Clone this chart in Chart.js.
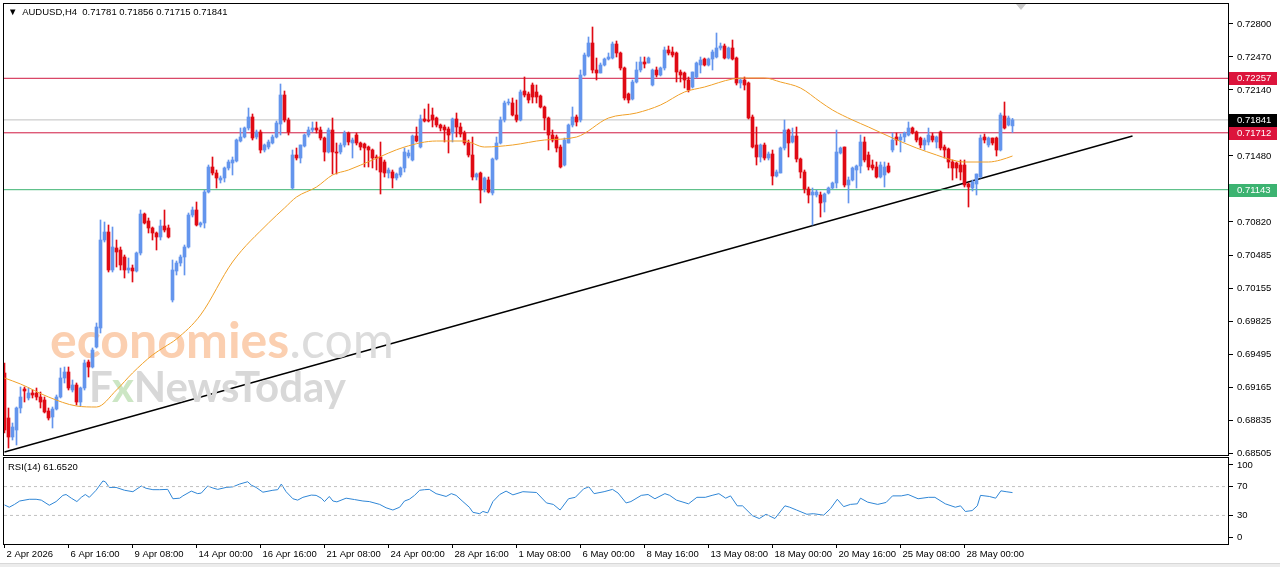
<!DOCTYPE html>
<html>
<head>
<meta charset="utf-8">
<script src="https://cdn.jsdelivr.net/npm/chart.js@4.4.1/dist/chart.umd.min.js"></script>
<style>
  html, body { margin: 0; padding: 0; background: #fff; }
  #wrap { position: relative; width: 1280px; height: 567px; overflow: hidden; background: #fff; font-family: "Liberation Sans", Arial, sans-serif; }
  canvas { position: absolute; left: 0; }
  #mainBack { top: 0; z-index: 1; }
  #main { top: 0; z-index: 3; }
  #rsi { top: 456px; z-index: 3; }
  .txt { position: absolute; z-index: 4; font-size: 9.5px; color: #000; white-space: nowrap; line-height: 12px; }
  .wm { position: absolute; z-index: 2; white-space: nowrap; font-family: Lato, sans-serif; font-weight: 700; }
  #wm1 { left: 50px; top: 314px; font-size: 50px; line-height: 50px; color: #fbcfb0; }
  #wm1 span { color: #dcdcdc; font-weight: 400; }
  #wm2 { left: 89px; top: 365px; font-size: 42px; line-height: 42px; color: #d8d8d8; }
  #wm2 span { color: #cce6c4; }
  #shift { position: absolute; z-index: 4; left: 1016px; top: 4px; width: 0; height: 0;
           border-left: 5px solid transparent; border-right: 5px solid transparent; border-top: 6px solid #c8c8c8; }
  #foot { position: absolute; z-index: 4; left: 0; top: 563px; width: 1280px; height: 4px; background: #ececec; border-top: 1px solid #d8d8d8; }
</style>
</head>
<body>
<div id="wrap">
  <canvas id="mainBack" width="1280" height="456"></canvas>
  <div class="wm" id="wm1">economies<span>.com</span></div>
  <div class="wm" id="wm2">F<span>x</span>NewsToday</div>
  <canvas id="main" width="1280" height="456"></canvas>
  <canvas id="rsi" width="1280" height="111"></canvas>
  <div class="txt" style="left:8px; top:6px;">&#9660;&nbsp; AUDUSD,H4&nbsp; 0.71781 0.71856 0.71715 0.71841</div>
  <div class="txt" style="left:8px; top:461px;">RSI(14) 61.6520</div>
  <div id="shift"></div>
  <div id="foot"></div>
</div>
<script>
// AUDUSD H4 candles, bar 0 = 2 Apr 2026 00:00
const opens = [
  0.6931,0.6886,0.6867,0.6874,0.6896,0.6915,0.6906,0.6911,0.6911,0.6907,
  0.6904,0.6893,0.6887,0.6895,0.6907,0.6926,0.6932,0.6914,0.6919,0.6902,
  0.6916,0.6942,0.6937,0.6957,0.6976,0.7064,0.7072,0.7034,0.7056,0.7054,
  0.7047,0.7034,0.7036,0.7033,0.7051,0.7090,0.7083,0.7076,0.7071,0.7067,
  0.7078,0.7076,0.7004,0.7033,0.7041,0.7047,0.7057,0.7089,0.7094,0.7079,
  0.7081,0.7112,0.7137,0.7131,0.7124,0.7126,0.7136,0.7141,0.7143,0.7163,
  0.7167,0.7176,0.7187,0.7167,0.7172,0.7154,0.7157,0.7161,0.7167,0.7180,
  0.7209,0.7184,0.7116,0.7149,0.7146,0.7158,0.7169,0.7174,0.7176,0.7174,
  0.7166,0.7152,0.7174,0.7152,0.7152,0.7159,0.7171,0.7161,0.7169,0.7161,
  0.7160,0.7157,0.7154,0.7147,0.7147,0.7142,0.7131,0.7132,0.7126,0.7129,
  0.7136,0.7148,0.7144,0.7168,0.7157,0.7185,0.7184,0.7189,0.7186,0.7179,
  0.7177,0.7175,0.7171,0.7185,0.7177,0.7171,0.7161,0.7149,0.7127,0.7131,
  0.7115,0.7124,0.7111,0.7145,0.7161,0.7184,0.7201,0.7201,0.7189,0.7184,
  0.7213,0.7210,0.7219,0.7212,0.7208,0.7197,0.7186,0.7169,0.7167,0.7157,
  0.7139,0.7161,0.7179,0.7187,0.7184,0.7229,0.7248,0.7261,0.7234,0.7231,
  0.7239,0.7245,0.7246,0.7260,0.7251,0.7236,0.7210,0.7205,0.7222,0.7234,
  0.7242,0.7241,0.7219,0.7234,0.7229,0.7236,0.7254,0.7252,0.7251,0.7232,
  0.7231,0.7224,0.7217,0.7227,0.7239,0.7245,0.7239,0.7245,0.7247,0.7256,
  0.7258,0.7246,0.7256,0.7246,0.7221,0.7224,0.7221,0.7187,0.7159,0.7147,
  0.7159,0.7146,0.7150,0.7128,0.7131,0.7156,0.7174,0.7162,0.7168,0.7145,
  0.7132,0.7115,0.7109,0.7109,0.7109,0.7102,0.7111,0.7116,0.7121,0.7151,
  0.7157,0.7119,0.7124,0.7134,0.7138,0.7162,0.7149,0.7139,0.7137,0.7127,
  0.7129,0.7138,0.7154,0.7167,0.7164,0.7167,0.7169,0.7176,0.7172,0.7166,
  0.7159,0.7162,0.7168,0.7162,0.7172,0.7157,0.7155,0.7142,0.7141,0.7139,
  0.7139,0.7120,0.7116,0.7120,0.7127,0.7167,0.7159,0.7166,0.7166,0.7154,
  0.7188,0.7179,0.71781
];
const highs = [
  0.6941,0.6896,0.6881,0.6897,0.6917,0.6917,0.6916,0.6914,0.6916,0.6912,
  0.6907,0.6896,0.6897,0.6909,0.6936,0.6937,0.6937,0.6924,0.6921,0.6917,
  0.6944,0.6944,0.6956,0.6981,0.7084,0.7082,0.7079,0.7077,0.7064,0.7057,
  0.7049,0.7046,0.7039,0.7052,0.7094,0.7091,0.7086,0.7077,0.7072,0.7084,
  0.7094,0.7079,0.7044,0.7043,0.7049,0.7059,0.7091,0.7097,0.7102,0.7082,
  0.7114,0.7139,0.7147,0.7134,0.7128,0.7137,0.7144,0.7147,0.7165,0.7176,
  0.7177,0.7196,0.7190,0.7174,0.7174,0.7160,0.7164,0.7169,0.7183,0.7220,
  0.7213,0.7186,0.7154,0.7156,0.7159,0.7170,0.7177,0.7182,0.7182,0.7177,
  0.7167,0.7176,0.7186,0.7161,0.7161,0.7173,0.7172,0.7166,0.7171,0.7162,
  0.7161,0.7158,0.7155,0.7149,0.7162,0.7144,0.7136,0.7134,0.7131,0.7137,
  0.7156,0.7154,0.7169,0.7177,0.7189,0.7195,0.7200,0.7196,0.7187,0.7180,
  0.7179,0.7177,0.7186,0.7191,0.7181,0.7173,0.7164,0.7167,0.7131,0.7132,
  0.7127,0.7127,0.7146,0.7167,0.7187,0.7203,0.7205,0.7206,0.7204,0.7214,
  0.7227,0.7212,0.7221,0.7219,0.7209,0.7198,0.7187,0.7174,0.7169,0.7159,
  0.7166,0.7180,0.7197,0.7189,0.7234,0.7251,0.7267,0.7277,0.7246,0.7241,
  0.7246,0.7251,0.7262,0.7263,0.7252,0.7237,0.7211,0.7224,0.7242,0.7247,
  0.7247,0.7247,0.7235,0.7237,0.7237,0.7257,0.7258,0.7257,0.7252,0.7234,
  0.7232,0.7227,0.7232,0.7242,0.7247,0.7246,0.7246,0.7254,0.7271,0.7261,
  0.7260,0.7257,0.7264,0.7247,0.7226,0.7227,0.7222,0.7189,0.7177,0.7160,
  0.7161,0.7152,0.7154,0.7134,0.7157,0.7184,0.7175,0.7176,0.7177,0.7146,
  0.7134,0.7117,0.7116,0.7114,0.7112,0.7111,0.7117,0.7122,0.7174,0.7157,
  0.7157,0.7127,0.7137,0.7139,0.7169,0.7167,0.7152,0.7144,0.7142,0.7142,
  0.7142,0.7141,0.7171,0.7171,0.7170,0.7172,0.7182,0.7177,0.7173,0.7167,
  0.7166,0.7176,0.7171,0.7168,0.7173,0.7159,0.7156,0.7144,0.7142,0.7144,
  0.7144,0.7121,0.7124,0.7130,0.7169,0.7170,0.7167,0.7166,0.7167,0.7191,
  0.7202,0.7188,0.71856
];
const lows = [
  0.6871,0.6856,0.6864,0.6859,0.6891,0.6902,0.6904,0.6906,0.6904,0.6896,
  0.6891,0.6884,0.6876,0.6894,0.6906,0.6921,0.6914,0.6912,0.6899,0.6898,
  0.6914,0.6927,0.6936,0.6956,0.6971,0.7062,0.7032,0.7032,0.7037,0.7034,
  0.7026,0.7031,0.7022,0.7032,0.7049,0.7080,0.7071,0.7064,0.7054,0.7064,
  0.7072,0.7066,0.7002,0.7029,0.7038,0.7029,0.7056,0.7087,0.7078,0.7077,
  0.7076,0.7111,0.7129,0.7116,0.7121,0.7122,0.7134,0.7129,0.7142,0.7162,
  0.7166,0.7174,0.7164,0.7165,0.7151,0.7152,0.7155,0.7160,0.7166,0.7169,
  0.7182,0.7169,0.7115,0.7144,0.7141,0.7157,0.7167,0.7172,0.7171,0.7164,
  0.7143,0.7151,0.7130,0.7130,0.7150,0.7157,0.7159,0.7146,0.7159,0.7154,
  0.7137,0.7137,0.7136,0.7134,0.7110,0.7127,0.7126,0.7116,0.7124,0.7127,
  0.7132,0.7146,0.7143,0.7162,0.7156,0.7182,0.7182,0.7177,0.7177,0.7173,
  0.7162,0.7151,0.7162,0.7167,0.7167,0.7159,0.7147,0.7124,0.7124,0.7101,
  0.7112,0.7111,0.7109,0.7144,0.7160,0.7182,0.7199,0.7188,0.7182,0.7183,
  0.7207,0.7201,0.7201,0.7201,0.7196,0.7174,0.7154,0.7162,0.7152,0.7136,
  0.7138,0.7161,0.7177,0.7178,0.7182,0.7228,0.7247,0.7231,0.7224,0.7231,
  0.7238,0.7244,0.7245,0.7247,0.7234,0.7204,0.7201,0.7204,0.7221,0.7232,
  0.7236,0.7241,0.7218,0.7227,0.7228,0.7234,0.7249,0.7247,0.7222,0.7222,
  0.7216,0.7212,0.7216,0.7226,0.7231,0.7238,0.7238,0.7234,0.7246,0.7254,
  0.7245,0.7245,0.7244,0.7219,0.7216,0.7214,0.7185,0.7156,0.7139,0.7142,
  0.7144,0.7144,0.7119,0.7127,0.7131,0.7154,0.7147,0.7161,0.7142,0.7126,
  0.7111,0.7101,0.7079,0.7107,0.7087,0.7092,0.7110,0.7115,0.7116,0.7150,
  0.7117,0.7101,0.7123,0.7116,0.7131,0.7142,0.7134,0.7134,0.7126,0.7126,
  0.7117,0.7131,0.7152,0.7159,0.7152,0.7162,0.7168,0.7170,0.7162,0.7156,
  0.7154,0.7159,0.7162,0.7156,0.7154,0.7146,0.7136,0.7124,0.7126,0.7124,
  0.7117,0.7097,0.7113,0.7109,0.7126,0.7161,0.7157,0.7159,0.7148,0.7153,
  0.7175,0.7178,0.71715
];
const closes = [
  0.6874,0.6867,0.6877,0.6896,0.6907,0.6913,0.6911,0.6909,0.6907,0.6902,
  0.6892,0.6886,0.6895,0.6907,0.6926,0.6932,0.6916,0.6919,0.6902,0.6916,
  0.6941,0.6937,0.6954,0.6977,0.7064,0.7072,0.7034,0.7057,0.7052,0.7039,
  0.7034,0.7036,0.7033,0.7051,0.7090,0.7081,0.7076,0.7071,0.7067,0.7078,
  0.7074,0.7067,0.7034,0.7041,0.7047,0.7057,0.7089,0.7094,0.7079,0.7081,
  0.7112,0.7137,0.7131,0.7126,0.7126,0.7136,0.7142,0.7144,0.7164,0.7167,
  0.7176,0.7187,0.7166,0.7172,0.7154,0.7159,0.7162,0.7167,0.7181,0.7209,
  0.7184,0.7172,0.7149,0.7146,0.7159,0.7169,0.7174,0.7176,0.7174,0.7166,
  0.7152,0.7174,0.7152,0.7151,0.7159,0.7171,0.7162,0.7164,0.7161,0.7157,
  0.7156,0.7154,0.7146,0.7146,0.7132,0.7131,0.7134,0.7126,0.7130,0.7136,
  0.7152,0.7151,0.7168,0.7163,0.7185,0.7183,0.7183,0.7184,0.7179,0.7176,
  0.7174,0.7169,0.7185,0.7177,0.7170,0.7161,0.7149,0.7127,0.7130,0.7114,
  0.7126,0.7112,0.7145,0.7161,0.7184,0.7201,0.7202,0.7189,0.7184,0.7212,
  0.7209,0.7204,0.7207,0.7207,0.7197,0.7186,0.7169,0.7164,0.7156,0.7137,
  0.7164,0.7179,0.7187,0.7182,0.7229,0.7249,0.7261,0.7234,0.7231,0.7239,
  0.7245,0.7247,0.7260,0.7251,0.7236,0.7206,0.7204,0.7222,0.7234,0.7242,
  0.7240,0.7246,0.7234,0.7229,0.7236,0.7254,0.7251,0.7249,0.7232,0.7229,
  0.7224,0.7214,0.7232,0.7241,0.7244,0.7239,0.7245,0.7252,0.7256,0.7258,
  0.7246,0.7256,0.7245,0.7221,0.7224,0.7219,0.7186,0.7157,0.7147,0.7159,
  0.7146,0.7150,0.7128,0.7132,0.7156,0.7174,0.7161,0.7168,0.7145,0.7132,
  0.7115,0.7109,0.7112,0.7112,0.7101,0.7110,0.7116,0.7121,0.7152,0.7156,
  0.7119,0.7124,0.7136,0.7138,0.7162,0.7144,0.7137,0.7136,0.7127,0.7139,
  0.7137,0.7132,0.7164,0.7164,0.7167,0.7171,0.7176,0.7171,0.7164,0.7159,
  0.7164,0.7169,0.7164,0.7167,0.7156,0.7154,0.7142,0.7136,0.7136,0.7132,
  0.7119,0.7117,0.7122,0.7130,0.7166,0.7164,0.7166,0.7161,0.7154,0.7189,
  0.7176,0.7186,0.71841
];

// moving average, read at a few bars
const maBars = [0,4,11,18,23,28,32,37,40,43,49,57,66,70,73,78,82,86,92,100,108,115,120,127,135,143,151,158,164,170,175,182,186,190,194,199,204,207,212,216,222,228,233,236,240,246,249,252];
const maValues = [0.6926,0.6920,0.6907,0.6898,0.6897,0.6914,0.6931,0.6949,0.6957,0.6965,0.6989,0.7042,0.7081,0.7096,0.7107,0.7117,0.7129,0.7134,0.7144,0.7157,0.7163,0.7163,0.7157,0.7159,0.7164,0.7167,0.7186,0.7191,0.7199,0.7212,0.7217,0.7225,0.7226,0.7226,0.7222,0.7216,0.7202,0.7194,0.7184,0.7177,0.7166,0.7156,0.7149,0.7145,0.7142,0.7142,0.7144,0.7148];

// RSI(14)
const rsiBars = [0,1.2,2.5,3.8,6.2,7.9,9.2,11.2,12.9,14.6,15.4,16.7,18.1,19.2,20.2,21.2,22.9,24.6,25.2,26.2,27.9,30,32.1,34.2,35.4,37.1,38.8,40.8,42.1,43.8,44.6,46.7,48.3,49.2,50.8,52.1,53.3,55.4,57.1,58.8,60.8,61.7,62.9,64.6,67.1,68.3,69.2,70.4,72.1,73.3,74.6,76.7,77.9,79.2,80,81.2,82.1,83.1,85.4,87.5,89.6,91.2,93.8,95.4,97.1,98.8,100,101.2,102.5,103.8,105,106.2,107.9,110.4,111.7,112.9,114.6,116.2,117.1,118.8,119.6,120.8,122.1,123.8,125.4,127.1,129.6,133,135.5,137.2,138.9,141,142.7,144.8,146.1,147.4,149.9,152,153.4,155.4,156.6,159.2,160.9,162.6,165.1,166.3,168,171,173.1,175.2,176.9,178.6,180.3,181.5,183.2,184.5,187,188.7,190.4,192.6,195.1,196.3,198,200.6,202.2,204.8,206.5,208.2,209.8,211.5,213.2,214,215.8,218.3,220.4,222,224.2,225.9,228.4,231,232.6,235.2,237.7,239,240.2,241.9,243.2,244,246.2,247.8,249.1,250.4,252];
const rsiValues = [44.5,41.4,45.3,50,52.4,52.4,51.2,44.1,49.2,57.8,59,53.9,49.2,55.1,59,55.1,64.9,77.8,76.7,68.8,68.8,64.9,62.9,70.8,67.6,65.7,65.7,66.1,53.1,53.9,57.1,63.7,60.2,61,70.8,68,66.1,68.8,69.6,73.5,76.7,72,68.8,62.2,64.9,65.7,73.5,62.9,53.1,51.2,55.1,58.2,57.8,53.9,49.2,56.3,50,48.8,53.9,52,50,49.2,45.3,40.6,37.5,41.4,50,52.4,57.8,64.9,65.7,66.1,60.2,56.3,60.2,57.8,49.2,41.4,34.3,32.4,35.5,33.5,49.2,59,63.7,58.5,62.9,61.8,47.3,45.3,37.5,53.1,55.1,66.9,69.6,60.2,62.9,66.1,61,47.3,49.2,57.8,59,53.1,60.2,57.8,51.2,46.1,55.1,55.1,57.8,60.2,53.9,57.1,43.3,43.3,29.6,25.7,31.6,25.7,43.3,41.4,37.5,31.6,32.4,30.4,39.4,52.4,42.2,45.3,46.1,53.9,48.4,45.3,48,57.1,57.1,59,53.1,55.1,55.1,46.1,41.4,43.3,35.5,36.7,43.3,57.8,56.3,53.9,64.1,62.9,61.65];

// objects on the chart
const levelPrices = [0.72257, 0.71841, 0.71712, 0.71143];
const levelColors = ['#d01840', '#c0c0c0', '#d01840', '#3cb371'];
const levelLabelBg = ['#dc143c', '#000000', '#dc143c', '#3cb371'];
const trendBars = [0, 282];
const trendPrices = [0.6852, 0.7168];
const rsiLevels = [70, 30];

// axes
const priceTicks = [0.72800,0.72470,0.72140,0.71480,0.70820,0.70485,0.70155,0.69825,0.69495,0.69165,0.68835,0.68505];
const rsiTicks = [100, 70, 30, 0];
const tickLabels = ['2 Apr 2026','6 Apr 16:00','9 Apr 08:00','14 Apr 00:00','16 Apr 16:00','21 Apr 08:00','24 Apr 00:00','28 Apr 16:00','1 May 08:00','6 May 00:00','8 May 16:00','13 May 08:00','18 May 00:00','20 May 16:00','25 May 08:00','28 May 00:00'];
const barsPerLabel = 16;

const BULL = '#6495ed';
const BEAR = '#e00a14';
const FONT = { family: '"Liberation Sans", Arial, sans-serif', size: 9.5 };
const xMin = -0.125, xMax = 305.875;

const idx = opens.map((_, i) => i);
const candleColor = idx.map(i => closes[i] >= opens[i] ? BULL : BEAR);

const framePlugin = {
  id: 'frame',
  afterDraw(chart) {
    const { ctx, chartArea: a } = chart;
    ctx.save();
    ctx.strokeStyle = '#000';
    ctx.lineWidth = 1;
    ctx.strokeRect(a.left - 0.5, a.top - 0.5, a.right - a.left + 1, a.bottom - a.top + 1);
    ctx.restore();
  }
};

const priceLabelPlugin = {
  id: 'priceLabels',
  afterDraw(chart) {
    const { ctx, chartArea: a } = chart;
    const y = chart.scales.y;
    ctx.save();
    ctx.font = '9.5px "Liberation Sans", Arial, sans-serif';
    ctx.textBaseline = 'middle';
    levelPrices.forEach((p, k) => {
      const py = Math.round(y.getPixelForValue(p));
      ctx.fillStyle = levelLabelBg[k];
      ctx.fillRect(a.right + 1, py - 6, 48, 13);
      ctx.fillStyle = '#fff';
      ctx.fillText(p.toFixed(5), a.right + 9, py + 0.5);
    });
    ctx.restore();
  }
};

function hLine(value, color, dash) {
  return {
    type: 'line',
    data: [{ x: xMin, y: value }, { x: xMax, y: value }],
    borderColor: color, borderWidth: 1, borderDash: dash || [],
    pointRadius: 0, order: 0
  };
}

function noPad(s) { s.paddingTop = 0; s.paddingBottom = 0; s.paddingLeft = 0; s.paddingRight = 0; }

function mainOptions(showAxes) {
  const ink = showAxes ? '#000' : 'rgba(0,0,0,0)';
  return {
    responsive: false, animation: false, events: [],
    layout: { padding: { left: 4, top: 4, right: 0, bottom: 1 } },
    plugins: { legend: { display: false }, tooltip: { enabled: false } },
    scales: {
      x: { type: 'linear', min: xMin, max: xMax, offset: false, display: false },
      y: {
        position: 'right', min: 0.6849, max: 0.7300,
        afterBuildTicks: s => { s.ticks = priceTicks.map(v => ({ value: v })); },
        afterFit: s => { s.width = 52; noPad(s); },
        ticks: { callback: v => v.toFixed(5), font: FONT, color: ink, padding: 4 },
        grid: { drawOnChartArea: false, tickLength: 5, color: ink },
        border: { color: ink }
      }
    }
  };
}

// back layer: chart objects that sit under the watermark
new Chart(document.getElementById('mainBack'), {
  type: 'line',
  data: {
    datasets: [
      ...levelPrices.map((p, k) => hLine(p, levelColors[k])),
      {
        data: trendBars.map((b, k) => ({ x: b, y: trendPrices[k] })),
        borderColor: '#000', borderWidth: 1.3, pointRadius: 0
      }
    ]
  },
  options: mainOptions(false)
});

// front layer: candles, moving average, axis
new Chart(document.getElementById('main'), {
  type: 'bar',
  data: {
    datasets: [
      {
        type: 'line',
        data: maBars.map((b, k) => ({ x: b, y: maValues[k] })),
        borderColor: '#f0a028', borderWidth: 1, pointRadius: 0,
        cubicInterpolationMode: 'monotone', order: 0
      },
      {
        data: idx.map(i => ({ x: i, y: [lows[i], highs[i]] })),
        backgroundColor: candleColor, grouped: false,
        maxBarThickness: 1, barPercentage: 1, categoryPercentage: 1, order: 2
      },
      {
        data: idx.map(i => ({ x: i, y: [opens[i], closes[i]] })),
        backgroundColor: candleColor, grouped: false, minBarLength: 1,
        maxBarThickness: 3, barPercentage: 1, categoryPercentage: 1, order: 1
      }
    ]
  },
  options: mainOptions(true),
  plugins: [framePlugin, priceLabelPlugin]
});

new Chart(document.getElementById('rsi'), {
  type: 'line',
  data: {
    datasets: [
      ...rsiLevels.map(v => hLine(v, '#c0c0c0', [3, 3])),
      {
        data: rsiBars.map((b, k) => ({ x: b, y: rsiValues[k] })),
        borderColor: '#2f86d6', borderWidth: 1, pointRadius: 0, order: 0
      }
    ]
  },
  options: {
    responsive: false, animation: false, events: [],
    layout: { padding: { left: 4, top: 2, right: 0, bottom: 0 } },
    plugins: { legend: { display: false }, tooltip: { enabled: false } },
    scales: {
      x: {
        type: 'linear', min: xMin, max: xMax, offset: false,
        afterBuildTicks: s => { s.ticks = tickLabels.map((_, k) => ({ value: k * barsPerLabel })); },
        afterFit: s => { s.height = 23; noPad(s); },
        ticks: { callback: v => tickLabels[Math.round(v / barsPerLabel)], align: 'start', labelOffset: 2,
                 maxRotation: 0, autoSkip: false, padding: 1, font: FONT, color: '#000' },
        grid: { drawOnChartArea: false, tickLength: 4, color: '#000' },
        border: { color: '#000' }
      },
      y: {
        position: 'right', min: -9.6, max: 109.6,
        afterBuildTicks: s => { s.ticks = rsiTicks.map(v => ({ value: v })); },
        afterFit: s => { s.width = 52; noPad(s); },
        ticks: { font: FONT, color: '#000', padding: 4 },
        grid: { drawOnChartArea: false, tickLength: 5, color: '#000' },
        border: { color: '#000' }
      }
    }
  },
  plugins: [framePlugin]
});
</script>
</body>
</html>
